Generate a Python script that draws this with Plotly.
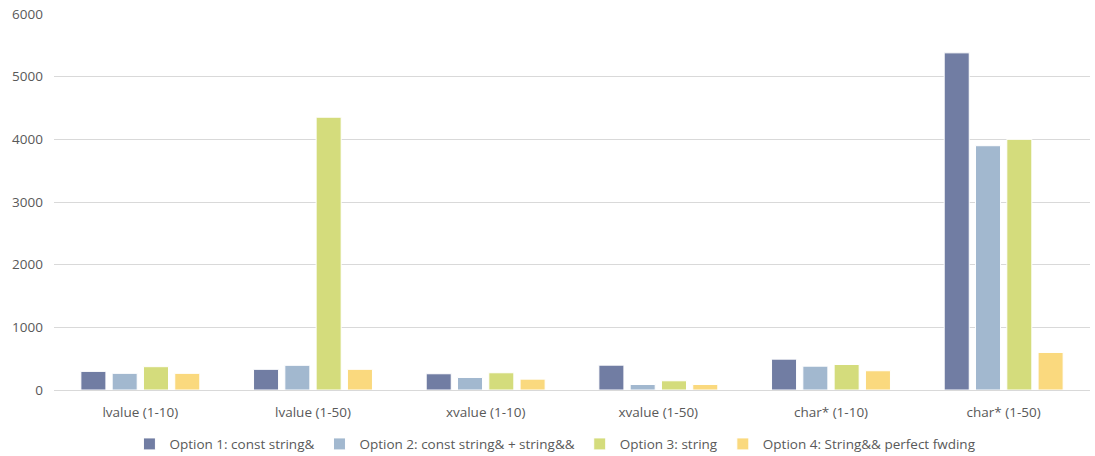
import plotly.graph_objects as go

categories = ["lvalue (1-10)", "lvalue (1-50)", "xvalue (1-10)", "xvalue (1-50)", "char* (1-10)", "char* (1-50)"]
series_names = ["Option 1: const string&", "Option 2: const string& + string&&",
                "Option 3: string", "Option 4: String&& perfect fwding"]
opt1 = [297, 330, 259, 396, 492, 5380]
opt2 = [266, 394, 200, 88, 380, 3898]
opt3 = [372, 4353, 275, 147, 407, 4000]
opt4 = [266, 330, 173, 88, 307, 599]
colors = ["#717DA3", "#A2B8CF", "#D4DC7C", "#FAD97E"]

fig = go.Figure()
for name, vals, c in zip(series_names, [opt1, opt2, opt3, opt4], colors):
    fig.add_trace(go.Bar(x=categories, y=vals, name=name, marker_color=c,
                         marker_line=dict(color="white", width=1)))

fig.update_layout(
    width=1095, height=456,
    margin=dict(l=54, r=5, t=14, b=66, autoexpand=False),
    paper_bgcolor="white", plot_bgcolor="white",
    barmode="group", bargap=0.275, bargroupgap=0.2,
    font=dict(family="Open Sans, Liberation Sans, sans-serif", size=13.5, color="#595959"),
    showlegend=True,
    legend=dict(orientation="h", x=0.484, xanchor="center", y=-0.144, yanchor="middle",
                font=dict(size=13.5, color="#595959"), itemwidth=30, traceorder="normal"),
    xaxis=dict(showline=True, linecolor="#d9d9d9", linewidth=1, ticks="outside",
               ticklen=10, tickcolor="rgba(0,0,0,0)", showgrid=False),
    yaxis=dict(range=[0, 6000], dtick=1000, showgrid=True, gridcolor="#d9d9d9",
               zeroline=False, ticks="", ticklabelstandoff=10),
)

fig.write_html("out.html")
